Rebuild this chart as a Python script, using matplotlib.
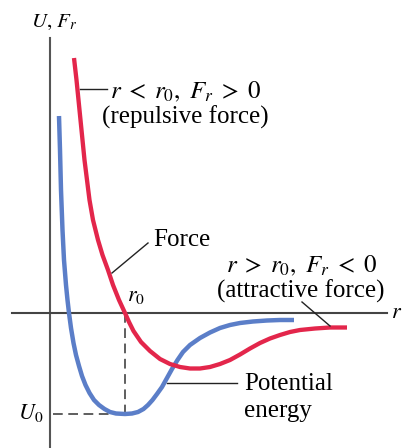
import matplotlib
matplotlib.use('Agg')
import matplotlib.pyplot as plt

plt.rcParams['font.family'] = ['Liberation Serif', 'DejaVu Serif']
plt.rcParams['mathtext.fontset'] = 'stix'
plt.rcParams['lines.scale_dashes'] = False

# Potential energy curve U(r)
r_u = [0.09, 0.10, 0.11, 0.125, 0.14, 0.16, 0.175, 0.19, 0.21, 0.235, 0.26, 0.29, 0.32, 0.355,
       0.395, 0.44, 0.49, 0.545, 0.60, 0.66, 0.75, 0.82, 0.88, 0.935, 0.98, 1.025, 1.07, 1.12,
       1.17, 1.22, 1.275, 1.33, 1.40, 1.50, 1.60, 1.70, 1.80, 1.90, 2.03, 2.17, 2.30, 2.44]
u = [1.97, 1.63, 1.23, 0.83, 0.53, 0.28, 0.13, 0.00, -0.15, -0.30, -0.42, -0.53, -0.63, -0.72,
     -0.80, -0.87, -0.92, -0.96, -0.99, -1.005, -1.01, -1.005, -0.99, -0.96, -0.92, -0.87, -0.81,
     -0.74, -0.65, -0.56, -0.47, -0.39, -0.32, -0.25, -0.195, -0.15, -0.12, -0.10, -0.085,
     -0.075, -0.07, -0.07]

# Force curve F_r(r)
r_f = [0.24, 0.265, 0.285, 0.305, 0.325, 0.345, 0.37, 0.395, 0.43, 0.48, 0.525, 0.58, 0.63,
       0.69, 0.75, 0.79, 0.835, 0.91, 1.00, 1.10, 1.20, 1.30, 1.40, 1.50, 1.60, 1.70, 1.80,
       1.90, 2.00, 2.10, 2.20, 2.30, 2.40, 2.50, 2.65, 2.80, 2.97]
f = [2.55, 2.33, 2.13, 1.93, 1.73, 1.53, 1.33, 1.13, 0.93, 0.73, 0.58, 0.43, 0.28, 0.13, 0.00,
     -0.09, -0.18, -0.29, -0.38, -0.46, -0.51, -0.54, -0.555, -0.555, -0.54, -0.51, -0.47,
     -0.415, -0.355, -0.30, -0.255, -0.22, -0.19, -0.17, -0.155, -0.145, -0.145]

r0 = 0.75
U0 = min(u)

fig = plt.figure(figsize=(4.14, 4.48), dpi=100)
ax = fig.add_axes([0, 0, 1, 1])
ax.set_xlim(-0.50, 3.64)
ax.set_ylim(-1.35, 3.13)
ax.axis('off')

# ejes
ax.plot([0, 0], [-1.35, 2.75], color='#555555', lw=1.5)
ax.plot([-0.38, 3.37], [0, 0], color='#444444', lw=1.5)

# lineas punteadas hacia r0 y U0
ax.plot([r0, r0], [0, U0], color='#333333', lw=1.1, dashes=(7, 4))
ax.plot([0.03, r0], [U0, U0], color='#333333', lw=1.1, dashes=(7, 4))

ax.plot(r_u, u, color='#5b7ec8', lw=3.2, solid_joinstyle='round', solid_capstyle='butt')
ax.plot(r_f, f, color='#e3264b', lw=3.1, solid_joinstyle='round', solid_capstyle='butt')

fs = 18
ax.text(0.04, 2.91, '$U,\\, F_r$', fontsize=15, ha='center', va='center')
ax.text(3.47, 0.0, '$r$', fontsize=16, ha='center', va='center')
ax.text(-0.19, -1.00, '$U_0$', fontsize=16, ha='center', va='center')
ax.text(0.86, 0.17, '$r_0$', fontsize=16, ha='center', va='center')

ax.text(1.35, 2.21, '$r\\;<\\;r_0,\\ F_r\\;>\\;0$', fontsize=fs, ha='center', va='center')
ax.text(1.35, 1.96, '(repulsive force)', fontsize=fs, ha='center', va='center')
ax.plot([0.30, 0.57], [2.24, 2.24], color='#222222', lw=1.0)

ax.text(1.03, 0.73, 'Force', fontsize=fs, ha='left', va='center')
ax.plot([0.62, 0.98], [0.40, 0.70], color='#222222', lw=1.0)

ax.text(2.51, 0.47, '$r\\;>\\;r_0,\\ F_r\\;<\\;0$', fontsize=fs, ha='center', va='center')
ax.text(2.51, 0.22, '(attractive force)', fontsize=fs, ha='center', va='center')
ax.plot([2.52, 2.80], [0.11, -0.13], color='#222222', lw=1.0)

ax.text(1.94, -0.71, 'Potential', fontsize=fs, ha='left', va='center')
ax.text(1.94, -0.98, 'energy', fontsize=fs, ha='left', va='center')
ax.plot([1.17, 1.87], [-0.70, -0.70], color='#222222', lw=1.0)

fig.savefig('out.png', dpi=100)
